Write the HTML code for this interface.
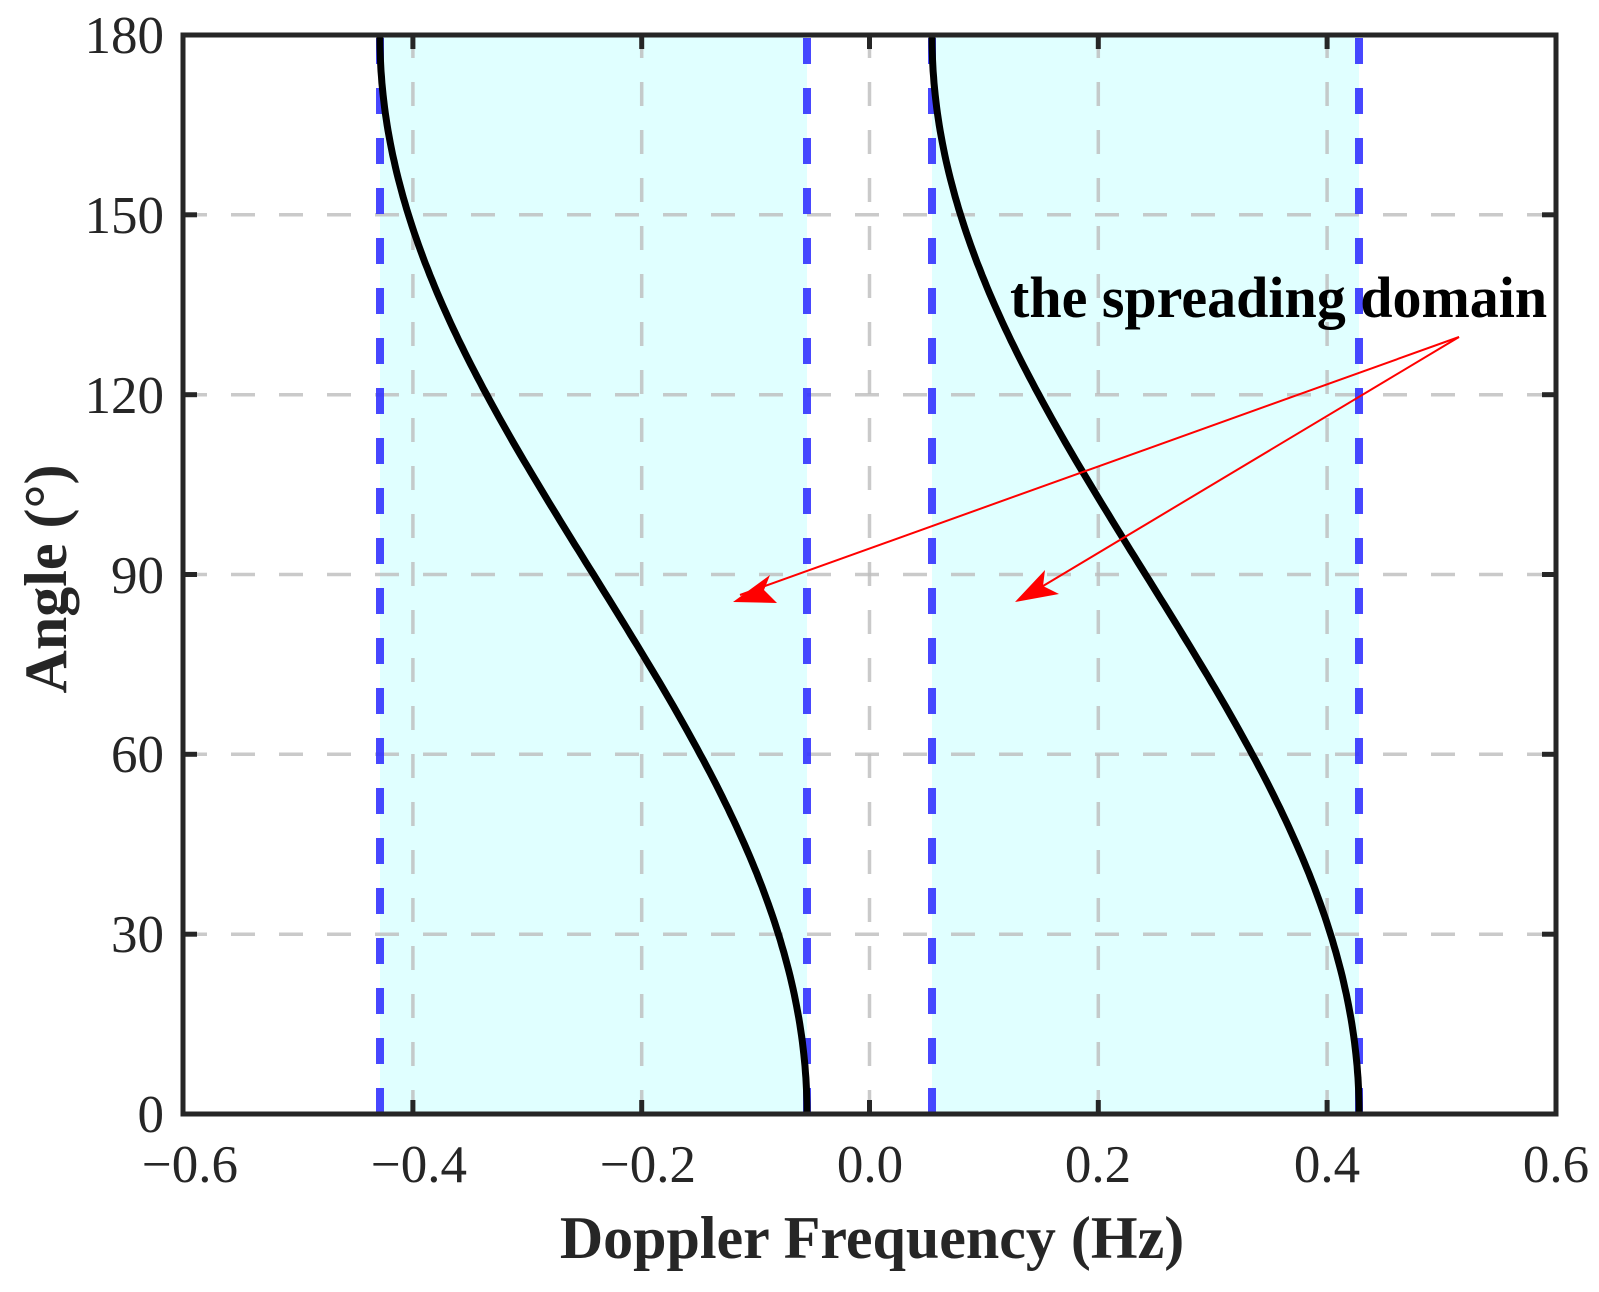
<!DOCTYPE html>
<html><head><meta charset="utf-8"><style>html,body{margin:0;padding:0;background:#fff}</style></head><body>
<svg width="1599" height="1287" viewBox="0 0 1599 1287" xmlns="http://www.w3.org/2000/svg" font-family="'Liberation Serif', serif">
<rect x="380" y="35" width="427" height="1079" fill="#e0ffff"/>
<rect x="932" y="35" width="427" height="1079" fill="#e0ffff"/>
<g stroke="#bdbdbd" stroke-opacity="0.8" stroke-width="3.5" stroke-dasharray="24,24">
<line x1="412.9" y1="1114" x2="412.9" y2="35"/>
<line x1="641.7" y1="1114" x2="641.7" y2="35"/>
<line x1="869.5" y1="1114" x2="869.5" y2="35"/>
<line x1="1098.3" y1="1114" x2="1098.3" y2="35"/>
<line x1="1327.1" y1="1114" x2="1327.1" y2="35"/>
<line x1="183" y1="934.2" x2="1556" y2="934.2"/>
<line x1="183" y1="754.3" x2="1556" y2="754.3"/>
<line x1="183" y1="574.5" x2="1556" y2="574.5"/>
<line x1="183" y1="394.7" x2="1556" y2="394.7"/>
<line x1="183" y1="214.8" x2="1556" y2="214.8"/>
</g>
<g stroke="#3333ff" stroke-opacity="0.9" stroke-width="8" stroke-dasharray="26,24">
<line x1="380" y1="1114" x2="380" y2="35"/>
<line x1="807" y1="1114" x2="807" y2="35"/>
<line x1="932" y1="1114" x2="932" y2="35"/>
<line x1="1359" y1="1114" x2="1359" y2="35"/>
</g>
<path id="c1" fill="none" stroke="#000" stroke-width="7"/>
<path id="c2" fill="none" stroke="#000" stroke-width="7"/>
<rect x="183" y="35" width="1373" height="1079" fill="none" stroke="#262626" stroke-width="5"/>
<g stroke="#262626" stroke-width="5">
<line x1="412.9" y1="1114" x2="412.9" y2="1100"/><line x1="641.7" y1="1114" x2="641.7" y2="1100"/><line x1="869.5" y1="1114" x2="869.5" y2="1100"/><line x1="1098.3" y1="1114" x2="1098.3" y2="1100"/><line x1="1327.1" y1="1114" x2="1327.1" y2="1100"/>
<line x1="412.9" y1="35" x2="412.9" y2="49"/><line x1="641.7" y1="35" x2="641.7" y2="49"/><line x1="869.5" y1="35" x2="869.5" y2="49"/><line x1="1098.3" y1="35" x2="1098.3" y2="49"/><line x1="1327.1" y1="35" x2="1327.1" y2="49"/>
<line x1="183" y1="934.2" x2="197" y2="934.2"/><line x1="183" y1="754.3" x2="197" y2="754.3"/><line x1="183" y1="574.5" x2="197" y2="574.5"/><line x1="183" y1="394.7" x2="197" y2="394.7"/><line x1="183" y1="214.8" x2="197" y2="214.8"/>
<line x1="1556" y1="934.2" x2="1542" y2="934.2"/><line x1="1556" y1="754.3" x2="1542" y2="754.3"/><line x1="1556" y1="574.5" x2="1542" y2="574.5"/><line x1="1556" y1="394.7" x2="1542" y2="394.7"/><line x1="1556" y1="214.8" x2="1542" y2="214.8"/>
</g>
<g fill="#262626" font-size="53" text-anchor="middle">
<text x="190" y="1182">−0.6</text><text x="419" y="1182">−0.4</text><text x="648" y="1182">−0.2</text><text x="870" y="1182">0.0</text><text x="1098" y="1182">0.2</text><text x="1327" y="1182">0.4</text><text x="1556" y="1182">0.6</text>
</g>
<g fill="#262626" font-size="53" text-anchor="end">
<text x="164" y="1132">0</text><text x="164" y="952">30</text><text x="164" y="772">60</text><text x="164" y="593">90</text><text x="164" y="413">120</text><text x="164" y="233">150</text><text x="164" y="53">180</text>
</g>
<text x="872" y="1258" font-size="60" font-weight="bold" fill="#262626" text-anchor="middle">Doppler Frequency (Hz)</text>
<text transform="translate(66,579) rotate(-90)" font-size="60" font-weight="bold" fill="#262626" text-anchor="middle">Angle (°)</text>
<text x="1010" y="317" font-size="58" font-weight="bold" fill="#000">the spreading domain</text>
<g stroke="#ff0000" stroke-width="2" fill="none">
<line x1="1459" y1="337" x2="740" y2="595"/>
<line x1="1459" y1="337" x2="1033" y2="592"/>
</g>
<polygon points="733,602 770,575 764,590 777,603" fill="#ff0000"/>
<polygon points="1015,602 1045,570 1043,586 1059,594" fill="#ff0000"/>
<script>
(function(){
function p(c){var d='';for(var i=0;i<=180;i++){var t=i*Math.PI/180;var f=c+0.1867*Math.cos(t);var x=869.5+f*1144;var y=1114-i*5.994;d+=(i?'L':'M')+x.toFixed(1)+','+y.toFixed(1);}return d;}
document.getElementById('c1').setAttribute('d',p(-0.2413));
document.getElementById('c2').setAttribute('d',p(0.2413));
})();
</script>
</svg>
</body></html>
